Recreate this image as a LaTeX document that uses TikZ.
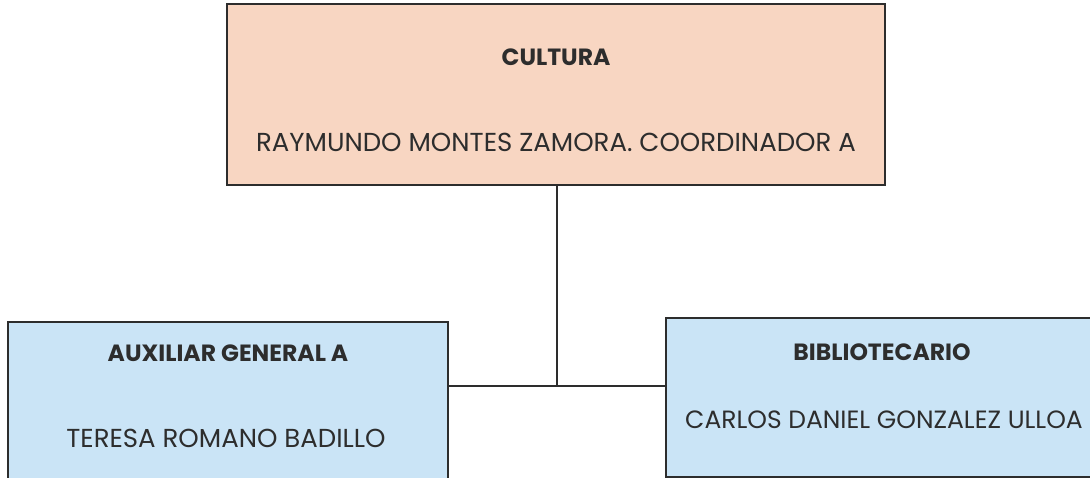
\documentclass[tikz,border=0pt]{standalone}
\usepackage{fontspec}
\setmainfont{Poppins}
\usetikzlibrary{positioning}
\definecolor{peach}{RGB}{248,214,194}
\definecolor{skyblue}{RGB}{202,228,246}
\definecolor{inkgray}{RGB}{45,45,45}

\begin{document}
\begin{tikzpicture}[x=1pt, y=1pt,
    orgbox/.style={draw=inkgray, line width=1.3pt, inner sep=0pt},
    title/.style={font=\fontsize{23.5}{26}\selectfont\bfseries, text=inkgray},
    person/.style={font=\fontsize{26}{30}\selectfont, text=inkgray},
    link/.style={draw=inkgray, line width=1.2pt}]
    \clip (0,0) rectangle (1090,478);
    % boxes
    \node[orgbox, fill=peach, minimum width=658, minimum height=181] (cultura) at (556,383.5) {};
    \node[orgbox, fill=skyblue, minimum width=440, minimum height=170] (auxiliar) at (228,71) {};
    \node[orgbox, fill=skyblue, minimum width=432, minimum height=159] (biblio) at (882,80.5) {};
    % texts
    \node[title] (culturaT) at (556,421) {CULTURA};
    \node[person] (culturaN) at (556,336) {RAYMUNDO MONTES ZAMORA. COORDINADOR A};
    \node[title] (auxiliarT) at (228,125) {AUXILIAR GENERAL A};
    \node[person] (auxiliarN) at (226,40) {TERESA ROMANO BADILLO};
    \node[title] (biblioT) at (882,126) {BIBLIOTECARIO};
    \node[person, font=\fontsize{25}{30}\selectfont, inner xsep=0pt] (biblioN) at (884,58) {CARLOS DANIEL GONZALEZ ULLOA};
    % lines
    \coordinate (junc) at (557,92);
    \draw[link] (cultura.south -| junc) -- (junc);
    \draw[link] (auxiliar.east |- junc) -- (biblio.west |- junc);
\end{tikzpicture}
\end{document}
